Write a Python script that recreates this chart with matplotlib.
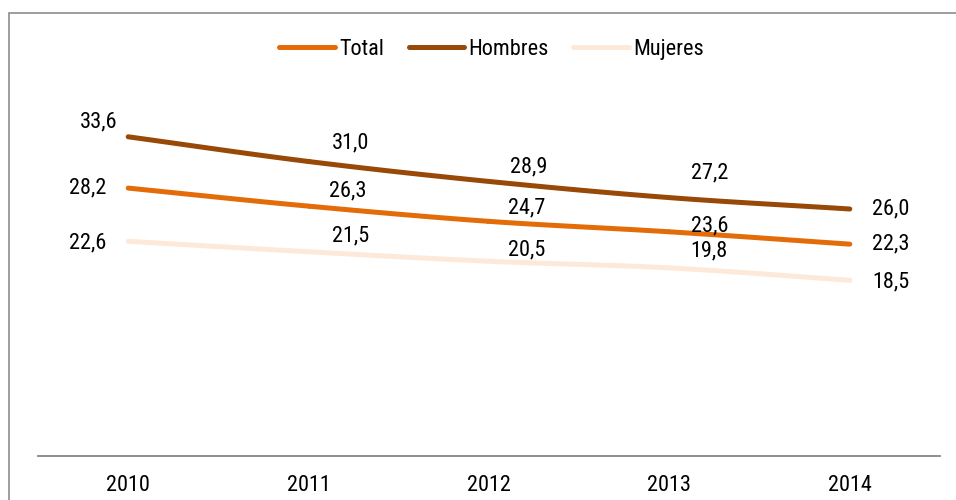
import matplotlib.pyplot as plt
import numpy as np
from matplotlib import font_manager
from matplotlib.patches import Rectangle

YEARS = ["2010", "2011", "2012", "2013", "2014"]
TOTAL = [28.2, 26.3, 24.7, 23.6, 22.3]
HOMBRES = [33.6, 31.0, 28.9, 27.2, 26.0]
MUJERES = [22.6, 21.5, 20.5, 19.8, 18.5]

COLORS = {"Total": "#E36C09", "Hombres": "#984807", "Mujeres": "#FDE9D9"}

# label offsets in pixels (dx, dy) relative to each point
OFFSETS = {
    "Total": [(-41, 0), (39, 15), (38, 13), (40, 6), (41, 0)],
    "Hombres": [(-30, 15), (42, 19), (40, 15), (40, 25), (41, 0)],
    "Mujeres": [(-41, -2), (42, 16), (38, 11), (40, 17), (41, -2)],
}

# prefer a narrow face like the original (Arial Narrow) when one is installed
names = {f.name for f in font_manager.fontManager.ttflist}
family = "Liberation Sans"
for cand in ["Liberation Sans Narrow", "Roboto Condensed", "Open Sans Condensed",
             "Noto Sans Condensed"]:
    if cand in names:
        family = cand
        break
plt.rcParams["font.family"] = [family, "DejaVu Sans"]
FS = 16


def smooth(x, y, n=30):
    # Catmull-Rom curve through the points, like Excel's smoothed line
    x = np.asarray(x, float)
    y = np.asarray(y, float)
    px = np.concatenate([[2 * x[0] - x[1]], x, [2 * x[-1] - x[-2]]])
    py = np.concatenate([[2 * y[0] - y[1]], y, [2 * y[-1] - y[-2]]])
    xs, ys = [], []
    t = np.linspace(0, 1, n)
    for i in range(1, len(px) - 2):
        for p, out in ((px, xs), (py, ys)):
            p0, p1, p2, p3 = p[i - 1], p[i], p[i + 1], p[i + 2]
            out.extend(0.5 * (2 * p1 + (-p0 + p2) * t
                              + (2 * p0 - 5 * p1 + 4 * p2 - p3) * t ** 2
                              + (-p0 + 3 * p1 - 3 * p2 + p3) * t ** 3))
    return np.array(xs), np.array(ys)


fig = plt.figure(figsize=(9.56, 5.0), dpi=100)
ax = fig.add_axes([38 / 956, 1 - 456 / 500, 902 / 956, 380 / 500])

x = np.arange(len(YEARS))
for name, vals in [("Total", TOTAL), ("Hombres", HOMBRES), ("Mujeres", MUJERES)]:
    sx, sy = smooth(x, vals)
    ax.plot(sx, sy, color=COLORS[name], lw=3.6, solid_capstyle="round", label=name)
    for xi, v, (dx, dy) in zip(x, vals, OFFSETS[name]):
        ax.annotate(f"{v:.1f}".replace(".", ","), (xi, v), xytext=(dx, dy),
                    textcoords="offset pixels", ha="center", va="center",
                    fontsize=FS, color="black")

ax.set_xlim(-0.5, len(YEARS) - 0.5)
ax.set_ylim(0, 40)
ax.set_xticks(x, YEARS)
ax.set_yticks([])
ax.tick_params(axis="x", length=0, pad=14, labelsize=FS)
for side in ["top", "right", "left"]:
    ax.spines[side].set_visible(False)
ax.spines["bottom"].set_color("#868686")
ax.spines["bottom"].set_linewidth(1.3)

ax.legend(loc="center", bbox_to_anchor=(0.503, 1 + (76 - 49) / 380), ncol=3,
          frameon=False, fontsize=FS, handlelength=2.5, handletextpad=0.2,
          columnspacing=1.1)

# grey chart-area border (only left and top edges fall inside the image)
fig.patches.append(Rectangle((8.5 / 956, -0.2), 1.2, 1.2 - 12.5 / 500,
                             transform=fig.transFigure, fill=False,
                             edgecolor="#8C8C8C", lw=1.2))

fig.savefig("out.png", dpi=100)
